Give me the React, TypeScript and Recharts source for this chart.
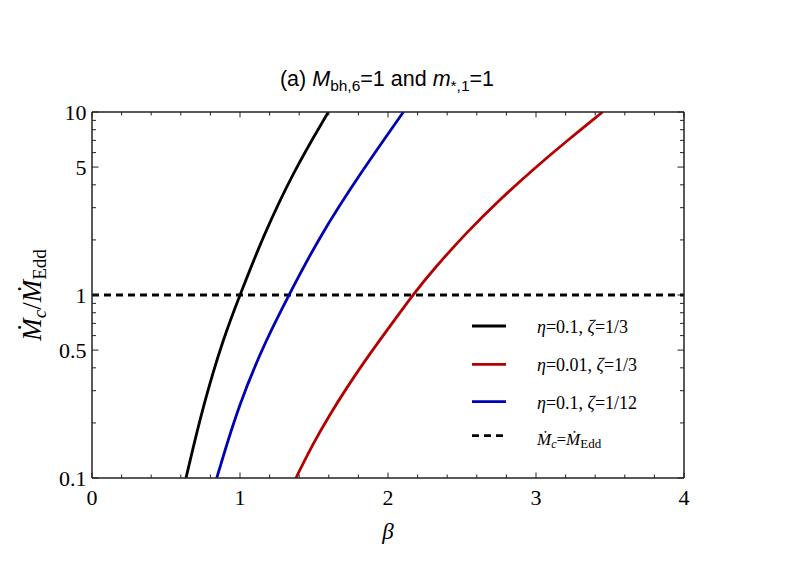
import React from 'react';
import { LineChart, Line, XAxis, YAxis, ReferenceLine, Legend } from 'recharts';

// ---- data ----
const betaTicks = [0, 0.2, 0.4, 0.6, 0.8, 1, 1.2, 1.4, 1.6, 1.8, 2, 2.2, 2.4, 2.6, 2.8, 3, 3.2, 3.4, 3.6, 3.8, 4];
const betaLabels = [0, 1, 2, 3, 4];
const ratioTicks = [0.1, 0.2, 0.3, 0.4, 0.5, 0.6, 0.7, 0.8, 0.9, 1, 2, 3, 4, 5, 6, 7, 8, 9, 10];
const ratioLabels = [0.1, 0.5, 1, 5, 10];
const ratioMajor = [0.1, 0.5, 1, 5, 10];

// eta = 0.1, zeta = 1/3
const blackBeta = [0.635, 0.752, 0.887, 1.0, 1.15, 1.36, 1.597];
const blackRatio = [0.1, 0.251, 0.579, 1.0, 2.04, 4.72, 10];

// eta = 0.01, zeta = 1/3
const redBeta = [1.378, 1.495, 1.608, 1.721, 1.833, 1.946, 2.059, 2.167, 2.31, 2.536, 2.76, 2.99, 3.21, 3.45];
const redRatio = [0.1, 0.155, 0.223, 0.311, 0.424, 0.57, 0.757, 1.0, 1.39, 2.22, 3.35, 4.93, 6.97, 10];

// eta = 0.1, zeta = 1/12
const blueBeta = [0.843, 0.99, 1.18, 1.331, 1.53, 1.82, 2.104];
const blueRatio = [0.1, 0.251, 0.579, 1.0, 2.04, 4.72, 10];

const eddingtonLevel = 1;

const toRows = (xs: number[], ys: number[]) => xs.map((b, i) => ({ beta: b, ratio: ys[i] }));
const blackData = toRows(blackBeta, blackRatio);
const redData = toRows(redBeta, redRatio);
const blueData = toRows(blueBeta, blueRatio);

const BLACK = '#000000';
const RED = '#b40000';
const BLUE = '#0000b4';
const SERIF = '"Liberation Serif", "Times New Roman", serif';
const SANS = '"Liberation Sans", Arial, sans-serif';
const FRAME = '#222222';

const isInt = (v: number) => Math.abs(v - Math.round(v)) < 1e-6;
const isMajorY = (v: number) => ratioMajor.some((m) => Math.abs(m - v) < 1e-9);

const BottomTick = (props: any) => {
  const { x, y, payload } = props;
  const v = payload.value as number;
  const major = isInt(v);
  const lab = betaLabels.some((l) => Math.abs(l - v) < 1e-9);
  return (
    <g>
      <line x1={x} x2={x} y1={y} y2={y - (major ? 5.5 : 3.5)} stroke={FRAME} strokeWidth={1} />
      {lab && (
        <text x={x} y={y + 26.5} textAnchor="middle" fontFamily={SERIF} fontSize={22} fill="#000">
          {String(v)}
        </text>
      )}
    </g>
  );
};

const TopTick = (props: any) => {
  const { x, y, payload } = props;
  const v = payload.value as number;
  const major = isInt(v);
  return <line x1={x} x2={x} y1={y} y2={y + (major ? 5.5 : 3.5)} stroke={FRAME} strokeWidth={1} />;
};

const LeftTick = (props: any) => {
  const { x, y, payload } = props;
  const v = payload.value as number;
  const major = isMajorY(v);
  const lab = ratioLabels.some((l) => Math.abs(l - v) < 1e-9);
  return (
    <g>
      <line x1={x} x2={x + (major ? 6.5 : 4)} y1={y} y2={y} stroke={FRAME} strokeWidth={1} />
      {lab && (
        <text x={x - 5.5} y={y + 7.5} textAnchor="end" fontFamily={SERIF} fontSize={22} fill="#000">
          {String(v)}
        </text>
      )}
    </g>
  );
};

const RightTick = (props: any) => {
  const { x, y, payload } = props;
  const v = payload.value as number;
  const major = isMajorY(v);
  return <line x1={x} x2={x - (major ? 6.5 : 4)} y1={y} y2={y} stroke={FRAME} strokeWidth={1} />;
};

const TitleLabel = (props: any) => {
  const vb = props.viewBox || {};
  const cx = vb.x + vb.width / 2 - 1;
  return (
    <text x={cx} y={vb.y + vb.height - 26} textAnchor="middle" fontFamily={SANS} fontSize={21.5} fill="#000">
      <tspan>(a) </tspan>
      <tspan fontStyle="italic">M</tspan>
      <tspan fontSize={15.5} dy={4.5}>bh,6</tspan>
      <tspan dy={-4.5}>=1 and </tspan>
      <tspan fontStyle="italic">m</tspan>
      <tspan fontSize={15.5} dy={4.5}>*,1</tspan>
      <tspan dy={-4.5}>=1</tspan>
    </text>
  );
};

const XLabel = (props: any) => {
  const vb = props.viewBox || {};
  const cx = vb.x + vb.width / 2;
  return (
    <text x={cx} y={vb.y + 60.5} textAnchor="middle" fontFamily={SERIF} fontStyle="italic" fontSize={23} fill="#000">
      β
    </text>
  );
};

const YLabel = (props: any) => {
  const vb = props.viewBox || {};
  const cy = vb.y + vb.height / 2;
  const bx = vb.x + vb.width - 51;
  return (
    <text
      x={bx}
      y={cy}
      transform={`rotate(-90, ${bx}, ${cy})`}
      textAnchor="middle"
      fontFamily={SERIF}
      fontSize={27}
      fill="#000"
    >
      <tspan fontStyle="italic">Ṁ</tspan>
      <tspan fontStyle="italic" fontSize={19} dy={5}>c</tspan>
      <tspan dy={-5}>/</tspan>
      <tspan fontStyle="italic">Ṁ</tspan>
      <tspan fontSize={19} dy={5}>Edd</tspan>
    </text>
  );
};

const legendRows = [18, 56.3, 93.7, 127.7];

const LegendBox = () => (
  <svg width={250} height={150} style={{ display: 'block', overflow: 'visible' }}>
    <line x1={9} x2={43} y1={legendRows[0]} y2={legendRows[0]} stroke={BLACK} strokeWidth={2.8} />
    <text x={74} y={legendRows[0] + 7} fontFamily={SERIF} fontSize={18} fill="#000">
      <tspan fontStyle="italic">η</tspan>=0.1, <tspan fontStyle="italic">ζ</tspan>=1/3
    </text>
    <line x1={9} x2={43} y1={legendRows[1]} y2={legendRows[1]} stroke={RED} strokeWidth={2.8} />
    <text x={74} y={legendRows[1] + 7} fontFamily={SERIF} fontSize={18} fill="#000">
      <tspan fontStyle="italic">η</tspan>=0.01, <tspan fontStyle="italic">ζ</tspan>=1/3
    </text>
    <line x1={9} x2={43} y1={legendRows[2]} y2={legendRows[2]} stroke={BLUE} strokeWidth={2.8} />
    <text x={74} y={legendRows[2] + 7} fontFamily={SERIF} fontSize={18} fill="#000">
      <tspan fontStyle="italic">η</tspan>=0.1, <tspan fontStyle="italic">ζ</tspan>=1/12
    </text>
    <line x1={9} x2={40} y1={legendRows[3]} y2={legendRows[3]} stroke={BLACK} strokeWidth={2.8} strokeDasharray="7 5" />
    <text x={74} y={legendRows[3] + 9} fontFamily={SERIF} fontSize={17} fill="#000">
      <tspan fontStyle="italic">Ṁ</tspan>
      <tspan fontStyle="italic" fontSize={12} dy={3}>c</tspan>
      <tspan dy={-3}>=</tspan>
      <tspan fontStyle="italic">Ṁ</tspan>
      <tspan fontSize={13} dy={3}>Edd</tspan>
    </text>
  </svg>
);

export default function App() {
  return (
    <LineChart width={784} height={548} margin={{ top: 103, right: 107, bottom: 48, left: 44 }}>
      <XAxis
        xAxisId="b"
        type="number"
        dataKey="beta"
        domain={[0, 4]}
        allowDataOverflow
        ticks={betaTicks}
        interval={0}
        orientation="bottom"
        height={30}
        tickLine={false}
        tickSize={0}
        tickMargin={0}
        tick={<BottomTick />}
        axisLine={{ stroke: FRAME, strokeWidth: 1.5 }}
        label={{ content: <XLabel /> }}
      />
      <XAxis
        xAxisId="t"
        type="number"
        dataKey="beta"
        domain={[0, 4]}
        allowDataOverflow
        ticks={betaTicks}
        interval={0}
        orientation="top"
        height={1}
        tickLine={false}
        tickSize={0}
        tickMargin={0}
        tick={<TopTick />}
        axisLine={{ stroke: FRAME, strokeWidth: 1.5 }}
        label={{ content: <TitleLabel /> }}
      />
      <YAxis
        yAxisId="l"
        type="number"
        scale="log"
        dataKey="ratio"
        domain={[0.1, 10]}
        allowDataOverflow
        ticks={ratioTicks}
        interval={0}
        orientation="left"
        width={40}
        tickLine={false}
        tickSize={0}
        tickMargin={0}
        tick={<LeftTick />}
        axisLine={{ stroke: FRAME, strokeWidth: 1.5 }}
        label={{ content: <YLabel /> }}
      />
      <YAxis
        yAxisId="r"
        type="number"
        scale="log"
        dataKey="ratio"
        domain={[0.1, 10]}
        allowDataOverflow
        ticks={ratioTicks}
        interval={0}
        orientation="right"
        width={1}
        tickLine={false}
        tickSize={0}
        tickMargin={0}
        tick={<RightTick />}
        axisLine={{ stroke: FRAME, strokeWidth: 1.5 }}
      />
      <ReferenceLine
        xAxisId="b"
        yAxisId="l"
        y={eddingtonLevel}
        stroke={BLACK}
        strokeWidth={2.8}
        strokeDasharray="7 5"
      />
      <Line xAxisId="b" yAxisId="l" data={blackData} dataKey="ratio" type="basis" stroke={BLACK} strokeWidth={2.8} dot={false} isAnimationActive={false} />
      <Line xAxisId="b" yAxisId="l" data={redData} dataKey="ratio" type="basis" stroke={RED} strokeWidth={2.8} dot={false} isAnimationActive={false} />
      <Line xAxisId="b" yAxisId="l" data={blueData} dataKey="ratio" type="basis" stroke={BLUE} strokeWidth={2.8} dot={false} isAnimationActive={false} />
      <Legend
        layout="vertical"
        align="center"
        verticalAlign="middle"
        wrapperStyle={{ left: 455, top: 300, width: 250, height: 150 }}
        content={() => <LegendBox />}
      />
    </LineChart>
  );
}
